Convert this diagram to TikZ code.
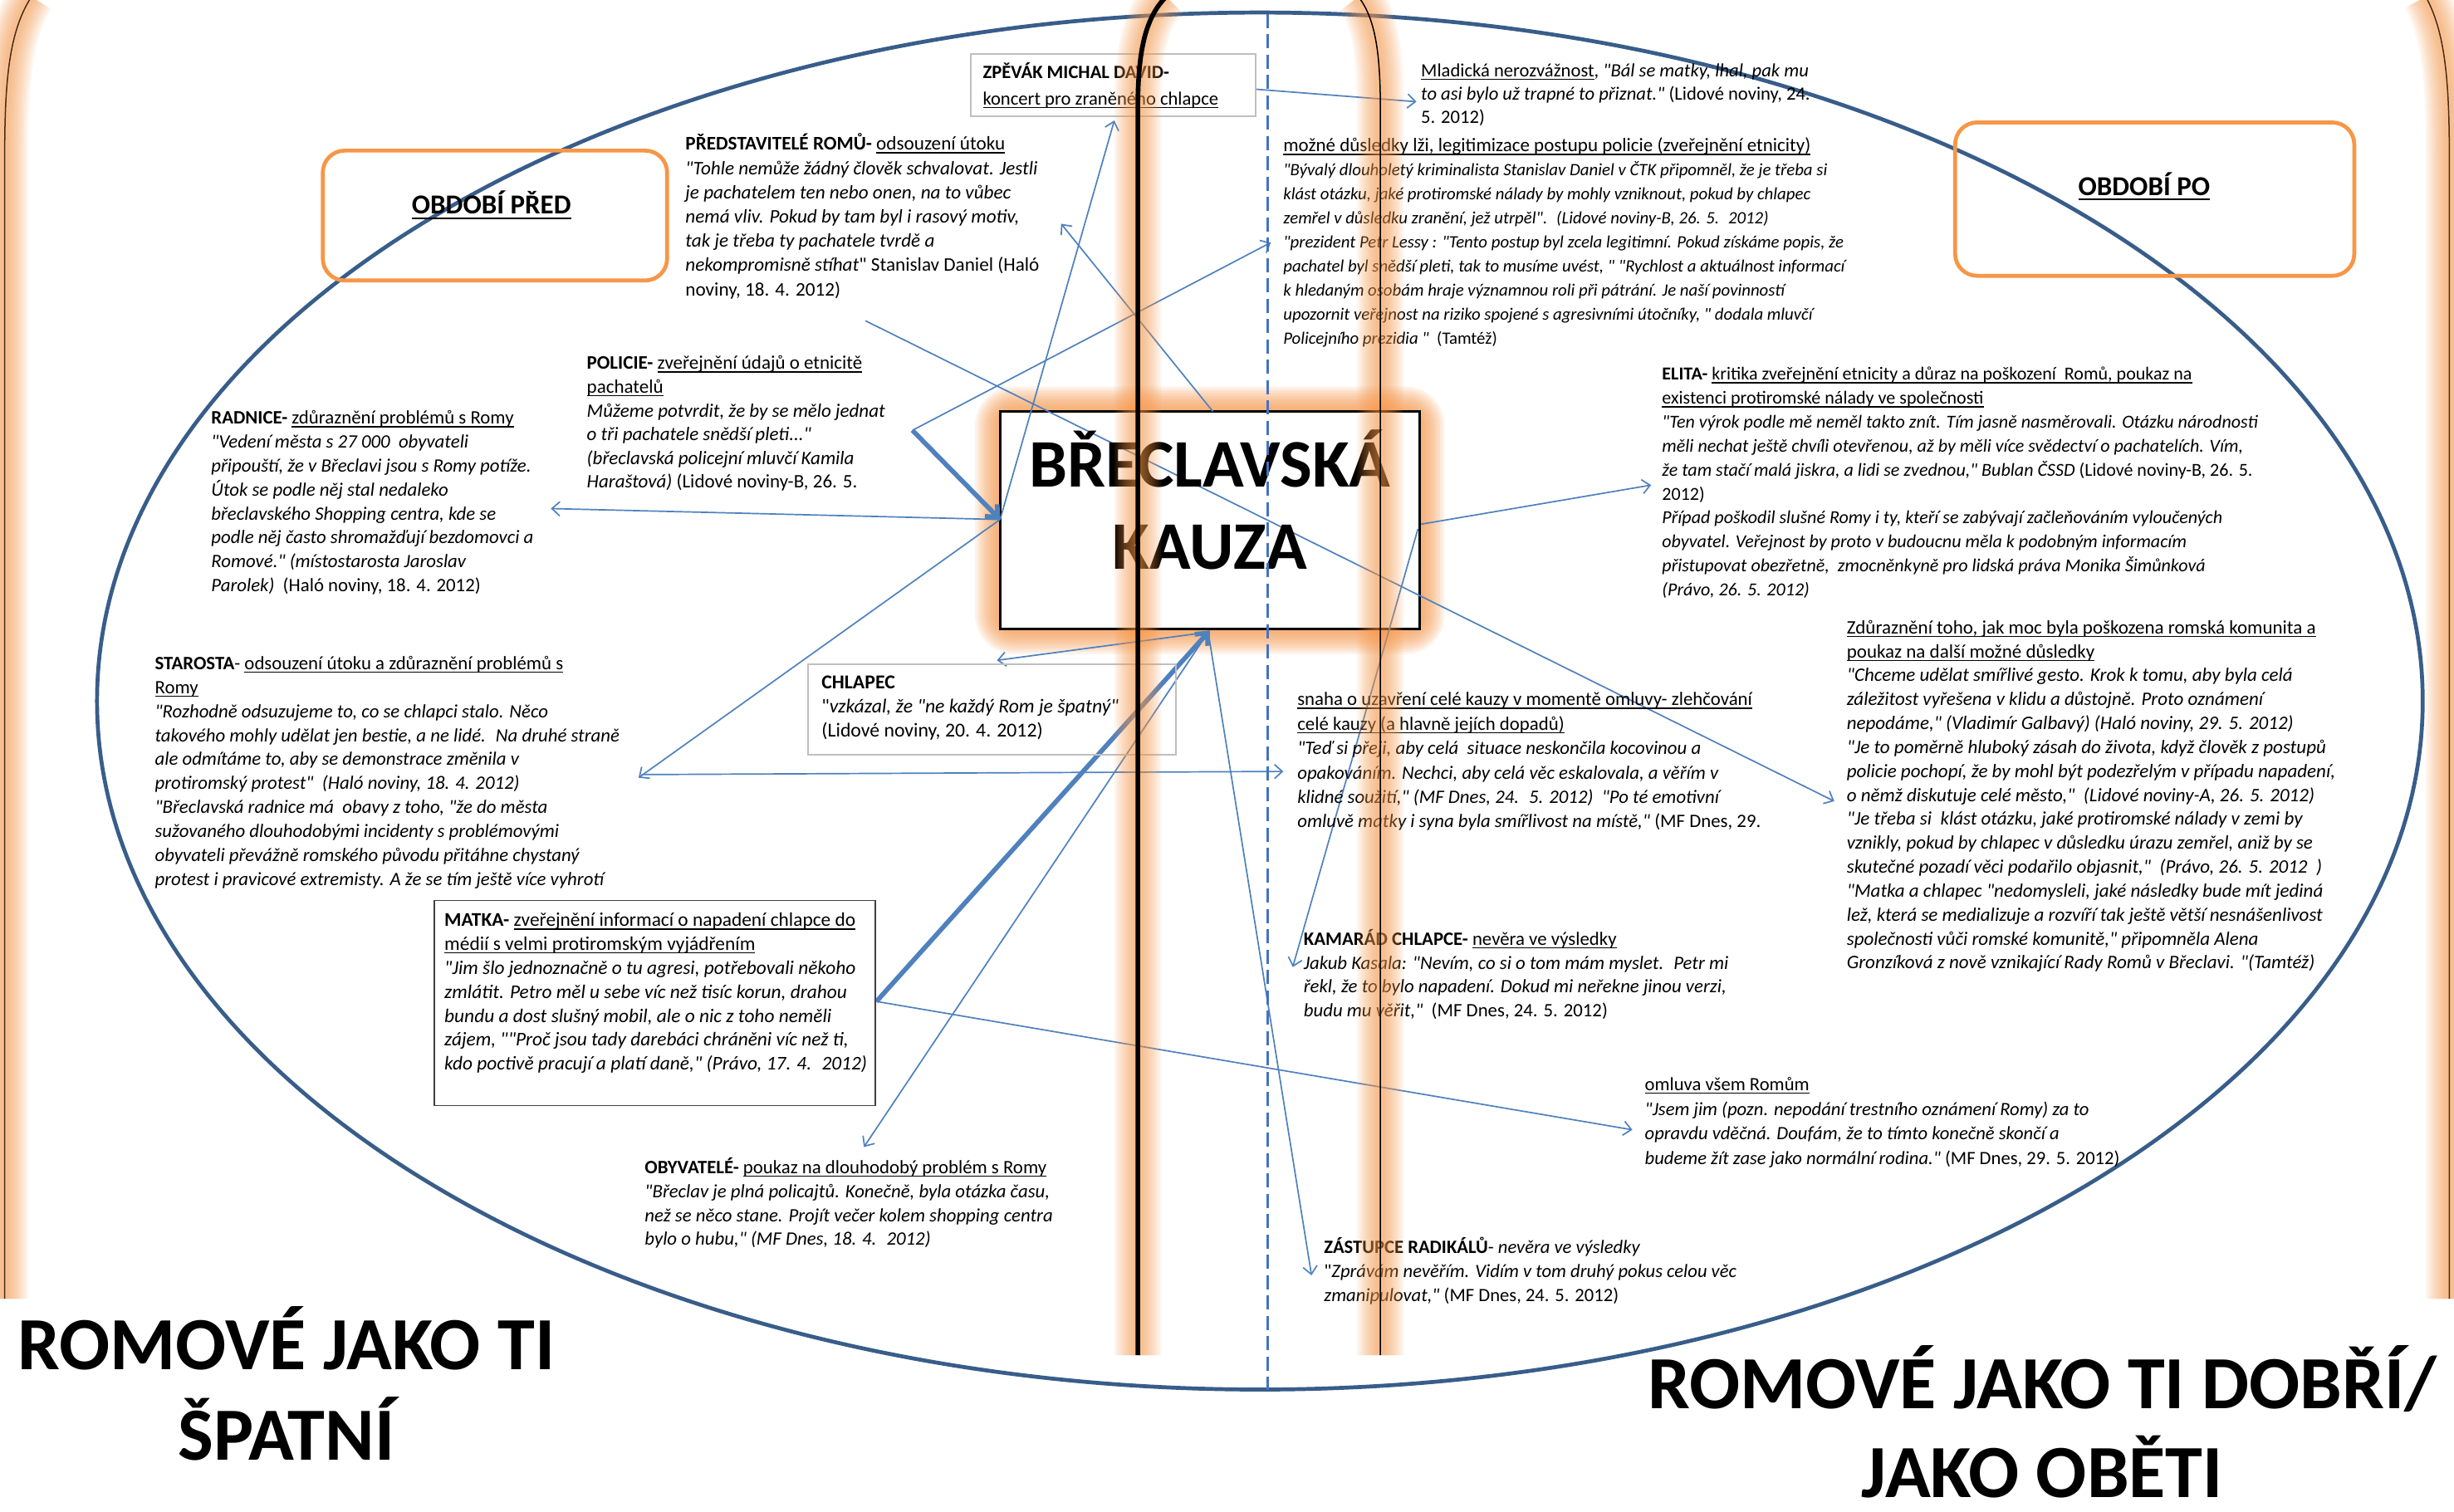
\documentclass[tikz,border=0pt]{standalone}
\usepackage{fontspec}
\setmainfont{Carlito}[Ligatures=TeXOff]
\usetikzlibrary{arrows.meta}
\definecolor{linkc}{RGB}{79,129,189}
\definecolor{ellc}{RGB}{56,93,138}
\definecolor{glowc}{RGB}{247,150,70}
\definecolor{dashc}{RGB}{68,114,196}
\definecolor{boxgray}{RGB}{191,191,191}
\definecolor{obdc}{RGB}{247,150,70}
\newcommand{\st}{\rule{0pt}{11pt}}
\newcommand{\myul}[1]{\setbox0\hbox{#1}\rlap{\rule[-0.17em]{\wd0}{0.06em}}\box0}
\newcommand{\glowline}[1]{%
  \foreach \gw in {30,27,24,21,18,15,12,9,6}{\draw[glowc, line width=\gw pt, opacity=0.09] #1;}}
\tikzset{
  blk/.style={anchor=north west, inner sep=0pt, outer sep=0pt, align=left},
  fs/.style 2 args={font=\fontsize{#1}{#2}\selectfont},
  link/.style={draw=linkc, line width=0.9pt, -{Straight Barb[length=5pt,width=9pt]}},
  thicklink/.style={draw=linkc, line width=3pt, -{Straight Barb[length=6pt,width=11pt]}},
  obd/.style={draw=obdc, line width=2.5pt, rounded corners=14pt, anchor=north west, inner sep=0pt},
  obdtxt/.style={inner sep=0pt, font=\fontsize{17.5}{20}\selectfont\bfseries},
  bigtxt/.style={anchor=base, inner sep=0pt, font=\fontsize{48}{58}\selectfont\bfseries},
  kztxt/.style={anchor=base, inner sep=0pt, font=\fontsize{43.5}{53}\selectfont\bfseries},
  graybox/.style={draw=boxgray, line width=0.8pt, anchor=north west, inner sep=0pt},
}
\begin{document}
\begin{tikzpicture}[x=1pt,y=-1pt]
\useasboundingbox (0,0) rectangle (1568,966);
\fill[white] (0,0) rectangle (1568,966);

% big ellipse
\draw[ellc, line width=2.5pt] (805,448) ellipse [x radius=743, y radius=440];

% central box glow
\foreach \w in {32,29,26,23,20,17,14,11,8,5}
  \draw[glowc, line width=\w pt, opacity=0.11, rounded corners=9pt] (639,263) rectangle (907,402);

% central box
\node[draw=black, fill=white, line width=1.8pt, minimum width=268, minimum height=139, inner sep=0pt] (kauza) at (773,332.5) {};

% coordinates for connector ends
\coordinate (zpR) at (802,57);
\coordinate (mlA) at (905,65);
\coordinate (kzL) at (639,332);
\coordinate (zpA) at (712,77);
\coordinate (polE) at (583,275);
\coordinate (dusA) at (812,155);
\coordinate (kzT) at (775,263);
\coordinate (prA) at (678,143);
\coordinate (prB) at (553,205);
\coordinate (zdA) at (1172,512);
\coordinate (radA) at (352,325);
\coordinate (stA) at (408,497);
\coordinate (stB) at (410,495);
\coordinate (snA) at (820,493);
\coordinate (kzB) at (772,404);
\coordinate (chA) at (637,422);
\coordinate (maR) at (560,640);
\coordinate (obA) at (552,733);
\coordinate (zaA) at (838,815);
\coordinate (kzRK) at (906,338);
\coordinate (kaA) at (826,618);
\coordinate (omA) at (1043,722);
\coordinate (kzR) at (908,335);
\coordinate (elA) at (1055,310);

% thin connectors
\draw[link] (zpR) -- (mlA);
\draw[link] (kzL) -- (zpA);
\draw[link] (polE) -- (dusA);
\draw[link] (kzT) -- (prA);
\draw[link] (prB) -- (zdA);
\draw[link] (kzL) -- (radA);
\draw[link] (kzL) -- (stA);
\draw[link] (stB) -- (snA);
\draw[link] (kzB) -- (chA);
\draw[link] (kzB) -- (obA);
\draw[link] (kzB) -- (zaA);
\draw[link] (kzRK) -- (kaA);
\draw[link] (maR) -- (omA);
\draw[link] (kzR) -- (elA);

\node[kztxt] (kz1) at (773,311) {BŘECLAVSKÁ};
\node[kztxt] (kz2) at (773,364) {KAUZA};

% thick connectors
\draw[thicklink] (polE) -- (kzL);
\draw[thicklink] (maR) -- (kauza.south);

% boxes
\node[graybox, minimum width=182, minimum height=40] (zpbox) at (620,34) {};
\node[graybox, minimum width=235, minimum height=58] (chbox) at (516,424) {};
\node[draw={rgb,255:red,64;green,64;blue,64}, line width=0.9pt, anchor=north west, inner sep=0pt, minimum width=282, minimum height=131] (mabox) at (277,575) {};
\node[obd, minimum width=220, minimum height=83] (predbox) at (205,95) {};
\node[obd, minimum width=255, minimum height=98] (pobox) at (1248,77) {};
\node[obdtxt] (predtxt) at (314,131) {\myul{OBDOBÍ PŘED}};
\node[obdtxt] (potxt) at (1370,119) {\myul{OBDOBÍ PO}};

% text blocks
\node[blk, fs={12}{17}] (zpevak) at (628,39) {\st\textbf{ZPĚVÁK MICHAL DAVID-}\\\myul{koncert pro zraněného chlapce}};
\node[blk, fs={12}{15}] (mlad) at (908,38) {\st\myul{Mladická nerozvážnost}, \textit{"Bál se matky, lhal, pak mu}\\
\textit{to asi bylo už trapné to přiznat."} (Lidové noviny, 24.\\
5. 2012)};
\node[blk, fs={12.3}{15.5}] (predst) at (438,85) {\st\textbf{PŘEDSTAVITELÉ ROMŮ-} \myul{odsouzení útoku}\\
\textit{"Tohle nemůže žádný člověk schvalovat. Jestli}\\
\textit{je pachatelem ten nebo onen, na to vůbec}\\
\textit{nemá vliv. Pokud by tam byl i rasový motiv,}\\
\textit{tak je třeba ty pachatele tvrdě a}\\
\textit{nekompromisně stíhat}" Stanislav Daniel (Haló\\
noviny, 18. 4. 2012)};
\node[blk, fs={11.05}{15.4}] (dusledky) at (820,86) {\st{\fontsize{12.2}{15.4}\selectfont\myul{možné důsledky lži, legitimizace postupu policie (zveřejnění etnicity)}}\\
\textit{"Bývalý dlouholetý kriminalista Stanislav Daniel v ČTK připomněl, že je třeba si}\\
\textit{klást otázku, jaké protiromské nálady by mohly vzniknout, pokud by chlapec}\\
\textit{zemřel v důsledku zranění, jež utrpěl".~ (Lidové noviny-B, 26. 5.~ 2012)}\\
\textit{"prezident Petr Lessy : "Tento postup byl zcela legitimní. Pokud získáme popis, že}\\
\textit{pachatel byl snědší pleti, tak to musíme uvést, " "Rychlost a aktuálnost informací}\\
\textit{k hledaným osobám hraje významnou roli při pátrání. Je naší povinností}\\
\textit{upozornit veřejnost na riziko spojené s agresivními útočníky, " dodala mluvčí}\\
\textit{Policejního prezidia "}~ (Tamtéž)};
\node[blk, fs={12.1}{15.3}] (radnice) at (135,260) {\st\textbf{RADNICE-} \myul{zdůraznění problémů s Romy}\\
\textit{"Vedení města s 27 000~ obyvateli}\\
\textit{připouští, že v Břeclavi jsou s Romy potíže.}\\
\textit{Útok se podle něj stal nedaleko}\\
\textit{břeclavského Shopping centra, kde se}\\
\textit{podle něj často shromažďují bezdomovci a}\\
\textit{Romové." (místostarosta Jaroslav}\\
\textit{Parolek)}~ (Haló noviny, 18. 4. 2012)};
\node[blk, fs={12.2}{15.2}] (policie) at (375,225) {\st\textbf{POLICIE-} \myul{zveřejnění údajů o etnicitě}\\
\myul{pachatelů}\\
\textit{Můžeme potvrdit, že by se mělo jednat}\\
\textit{o tři pachatele snědší pleti..."}\\
\textit{(břeclavská policejní mluvčí Kamila}\\
\textit{Haraštová)} (Lidové noviny-B, 26. 5.};
\node[blk, fs={11.7}{15.3}] (elita) at (1062,232) {\st\textbf{ELITA-} \myul{kritika zveřejnění etnicity a důraz na poškození~ Romů, poukaz na}\\
\myul{existenci protiromské nálady ve společnosti}\\
\textit{"Ten výrok podle mě neměl takto znít. Tím jasně nasměrovali. Otázku národnosti}\\
\textit{měli nechat ještě chvíli otevřenou, až by měli více svědectví o pachatelích. Vím,}\\
\textit{že tam stačí malá jiskra, a lidi se zvednou," Bublan ČSSD} (Lidové noviny-B, 26. 5.\\
2012)\\
\textit{Případ poškodil slušné Romy i ty, kteří se zabývají začleňováním vyloučených}\\
\textit{obyvatel. Veřejnost by proto v budoucnu měla k podobným informacím}\\
\textit{přistupovat obezřetně,~ zmocněnkyně pro lidská práva Monika Šimůnková}\\
\textit{(Právo, 26. 5. 2012)}};
\node[blk, fs={12.2}{15.3}] (zduraz) at (1180,394) {\st\myul{Zdůraznění toho, jak moc byla poškozena romská komunita a}\\
\myul{poukaz na další možné důsledky}\\
\textit{"Chceme udělat smířlivé gesto. Krok k tomu, aby byla celá}\\
\textit{záležitost vyřešena v klidu a důstojně. Proto oznámení}\\
\textit{nepodáme," (Vladimír Galbavý) (Haló noviny, 29. 5. 2012)}\\
\textit{"Je to poměrně hluboký zásah do života, když člověk z postupů}\\
\textit{policie pochopí, že by mohl být podezřelým v případu napadení,}\\
\textit{o němž diskutuje celé město,"~ (Lidové noviny-A, 26. 5. 2012)}\\
\textit{"Je třeba si~ klást otázku, jaké protiromské nálady v zemi by}\\
\textit{vznikly, pokud by chlapec v důsledku úrazu zemřel, aniž by se}\\
\textit{skutečné pozadí věci podařilo objasnit,"~ (Právo, 26. 5. 2012~ )}\\
\textit{"Matka a chlapec "nedomysleli, jaké následky bude mít jediná}\\
\textit{lež, která se medializuje a rozvíří tak ještě větší nesnášenlivost}\\
\textit{společnosti vůči romské komunitě," připomněla Alena}\\
\textit{Gronzíková z nově vznikající Rady Romů v Břeclavi. "(Tamtéž)}};
\node[blk, fs={12.1}{15.3}] (starosta) at (99,417) {\st\textbf{STAROSTA}- \myul{odsouzení útoku a zdůraznění problémů s}\\
\myul{Romy}\\
\textit{"Rozhodně odsuzujeme to, co se chlapci stalo. Něco}\\
\textit{takového mohly udělat jen bestie, a ne lidé.~ Na druhé straně}\\
\textit{ale odmítáme to, aby se demonstrace změnila v}\\
\textit{protiromský protest"~ (Haló noviny, 18. 4. 2012)}\\
\textit{"Břeclavská radnice má~ obavy z toho, "že do města}\\
\textit{sužovaného dlouhodobými incidenty s problémovými}\\
\textit{obyvateli převážně romského původu přitáhne chystaný}\\
\textit{protest i pravicové extremisty. A že se tím ještě více vyhrotí}};
\node[blk, fs={12.6}{15.5}] (chlapec) at (525,429) {\st\textbf{CHLAPEC}\\
"\textit{vzkázal, že "ne každý Rom je špatný"}\\
(Lidové noviny, 20. 4. 2012)};
\node[blk, fs={12.1}{15.6}] (snaha) at (829,440) {\st\myul{snaha o uzavření celé kauzy v momentě omluvy- zlehčování}\\
\myul{celé kauzy (a hlavně jejích dopadů)}\\
\textit{"Teď si přeji, aby celá~ situace neskončila kocovinou a}\\
\textit{opakováním. Nechci, aby celá věc eskalovala, a věřím v}\\
\textit{klidné soužití," (MF Dnes, 24.~ 5. 2012)~ "Po té emotivní}\\
\textit{omluvě matky i syna byla smířlivost na místě,"} (MF Dnes, 29.};
\node[blk, fs={12.4}{15.3}] (matka) at (284,581) {\st\textbf{MATKA-} \myul{zveřejnění informací o napadení chlapce do}\\
\myul{médií s velmi protiromským vyjádřením}\\
\textit{"Jim šlo jednoznačně o tu agresi, potřebovali někoho}\\
\textit{zmlátit. Petro měl u sebe víc než tisíc korun, drahou}\\
\textit{bundu a dost slušný mobil, ale o nic z toho neměli}\\
\textit{zájem, ""Proč jsou tady darebáci chráněni víc než ti,}\\
\textit{kdo poctivě pracují a platí daně," (Právo, 17. 4.~ 2012)}};
\node[blk, fs={12.1}{15.3}] (kamarad) at (833,593) {\st\textbf{KAMARÁD CHLAPCE-} \myul{nevěra ve výsledky}\\
\textit{Jakub Kasala: "Nevím, co si o tom mám myslet.~ Petr mi}\\
\textit{řekl, že to bylo napadení. Dokud mi neřekne jinou verzi,}\\
\textit{budu mu věřit,"}~ (MF Dnes, 24. 5. 2012)};
\node[blk, fs={12}{15.7}] (omluva) at (1051,686) {\st\myul{omluva všem Romům}\\
\textit{"Jsem jim (pozn. nepodání trestního oznámení Romy) za to}\\
\textit{opravdu vděčná. Doufám, že to tímto konečně skončí a}\\
\textit{budeme žít zase jako normální rodina."} (MF Dnes, 29. 5. 2012)};
\node[blk, fs={12.1}{15.3}] (obyv) at (412,739) {\st\textbf{OBYVATELÉ-} \myul{poukaz na dlouhodobý problém s Romy}\\
\textit{"Břeclav je plná policajtů. Konečně, byla otázka času,}\\
\textit{než se něco stane. Projít večer kolem shopping centra}\\
\textit{bylo o hubu," (MF Dnes, 18. 4.~ 2012)}};
\node[blk, fs={12}{15.5}] (zastupce) at (846,790) {\st\textbf{ZÁSTUPCE RADIKÁLŮ}- \textit{nevěra ve výsledky}\\
"\textit{Zprávám nevěřím. Vidím v tom druhý pokus celou věc}\\
\textit{zmanipulovat,"} (MF Dnes, 24. 5. 2012)};

% glowing vertical lines
\glowline{(745,-2) .. controls (731,12) and (727,35) .. (727,70) -- (727,866)}
\glowline{(868,-2) .. controls (879,12) and (882,35) .. (882,70) -- (882,866)}
\glowline{(20,-2) .. controls (6,20) and (3,50) .. (3,100) -- (3,830)}
\glowline{(1550,-2) .. controls (1562,20) and (1565,50) .. (1565,100) -- (1565,830)}
\draw[black, line width=3pt] (745,-2) .. controls (731,12) and (727,35) .. (727,70) -- (727,866);
\draw[black, line width=0.8pt] (868,-2) .. controls (879,12) and (882,35) .. (882,70) -- (882,866);
\draw[black!70!glowc, line width=0.8pt] (20,-2) .. controls (6,20) and (3,50) .. (3,100) -- (3,830);
\draw[black!70!glowc, line width=0.8pt] (1550,-2) .. controls (1562,20) and (1565,50) .. (1565,100) -- (1565,830);

% dashed divider
\draw[dashc, line width=1.8pt, dash pattern=on 9pt off 4pt] (810,9) -- (810,888);

% bottom titles
\node[bigtxt] (left1) at (183,875) {ROMOVÉ JAKO TI};
\node[bigtxt] (left2) at (183,933) {ŠPATNÍ};
\node[bigtxt] (right1) at (1305,900) {ROMOVÉ JAKO TI DOBŘÍ/};
\node[bigtxt] (right2) at (1305,957) {JAKO OBĚTI};
\end{tikzpicture}
\end{document}
